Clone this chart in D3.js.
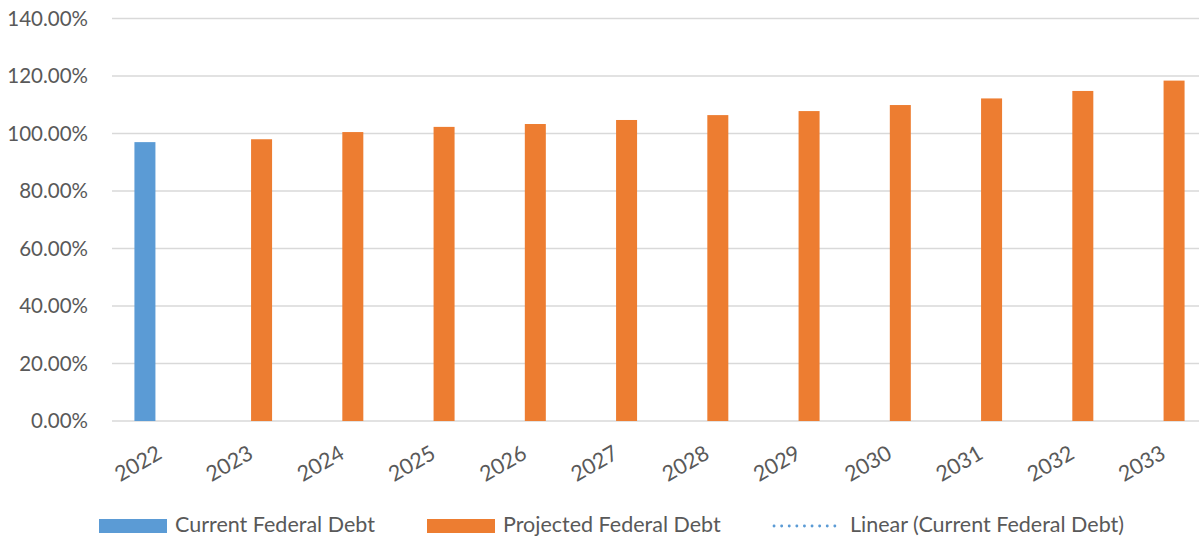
<!DOCTYPE html>
<html>
<head>
<meta charset="utf-8">
<script src="https://cdn.jsdelivr.net/npm/d3@7"></script>
<style>
  html, body { margin: 0; padding: 0; background: #fff; }
  svg { display: block; }
  text { font-family: Lato, "Noto Sans", sans-serif; fill: #595959; }
</style>
</head>
<body>
<svg id="chart" width="1199" height="537"></svg>
<script>
// Federal debt as a share of GDP (%), 2022 actual and 2023-2033 projected
const years = ["2022","2023","2024","2025","2026","2027","2028","2029","2030","2031","2032","2033"];
const currentDebt = [97.0, null, null, null, null, null, null, null, null, null, null, null];
const projectedDebt = [null, 98.0, 100.5, 102.3, 103.3, 104.7, 106.4, 107.8, 109.9, 112.2, 114.8, 118.4];
const yTicks = [0, 20, 40, 60, 80, 100, 120, 140];
const seriesNames = ["Current Federal Debt", "Projected Federal Debt"];
const seriesColors = ["#5B9BD5", "#ED7D31"];
const trendName = "Linear (Current Federal Debt)";

const W = 1199, H = 537;
const plot = { left: 112, right: 1207, top: 18.5, bottom: 421 };

const svg = d3.select("#chart");

const x = d3.scaleBand().domain(years).range([plot.left, plot.right]).paddingInner(0).paddingOuter(0);
const xSub = d3.scaleBand().domain(seriesNames).range([0, x.bandwidth()])
  .paddingInner(0.173).paddingOuter(0.883);
const y = d3.scaleLinear().domain([0, 140]).range([plot.bottom, plot.top]);

// horizontal gridlines
svg.append("g").selectAll("line").data(yTicks).join("line")
  .attr("x1", plot.left).attr("x2", W)
  .attr("y1", d => y(d)).attr("y2", d => y(d))
  .attr("stroke", "#d9d9d9").attr("stroke-width", 1.4);

// y tick labels
svg.append("g").selectAll("text").data(yTicks).join("text")
  .attr("x", 88).attr("y", d => y(d)).attr("dy", "0.36em")
  .attr("text-anchor", "end").style("font-size", "20.5px")
  .text(d => d.toFixed(2) + "%");

// bars
const seriesData = [currentDebt, projectedDebt];
seriesData.forEach((vals, si) => {
  const pts = years.map((yr, i) => ({ yr, v: vals[i] })).filter(d => d.v != null);
  svg.append("g").selectAll("rect").data(pts).join("rect")
    .attr("x", d => x(d.yr) + xSub(seriesNames[si]))
    .attr("width", xSub.bandwidth())
    .attr("y", d => y(d.v))
    .attr("height", d => y(0) - y(d.v))
    .attr("fill", seriesColors[si]);
});

// x category labels, rotated
svg.append("g").selectAll("text").data(years).join("text")
  .attr("transform", d => `translate(${x(d) + x.bandwidth() / 2 - 2},${plot.bottom + 23}) rotate(-30)`)
  .attr("text-anchor", "end").attr("dy", "0.72em")
  .style("font-size", "21.5px")
  .text(d => d);

// legend
const lg = svg.append("g");
const legendY = 526;
const items = [
  { type: "rect", color: seriesColors[0], x: 99, label: seriesNames[0] },
  { type: "rect", color: seriesColors[1], x: 427, label: seriesNames[1] },
  { type: "dots", color: seriesColors[0], x: 774, label: trendName }
];
items.forEach(it => {
  if (it.type === "rect") {
    lg.append("rect").attr("x", it.x).attr("y", legendY - 7).attr("width", 68).attr("height", 14).attr("fill", it.color);
  } else {
    lg.append("line").attr("x1", it.x).attr("x2", it.x + 68).attr("y1", legendY).attr("y2", legendY)
      .attr("stroke", it.color).attr("stroke-width", 2.8).attr("stroke-dasharray", "0.1,7.5").attr("stroke-linecap", "round");
  }
  lg.append("text").attr("x", it.x + 76).attr("y", 532)
    .style("font-size", "21.5px").text(it.label);
});
</script>
</body>
</html>
